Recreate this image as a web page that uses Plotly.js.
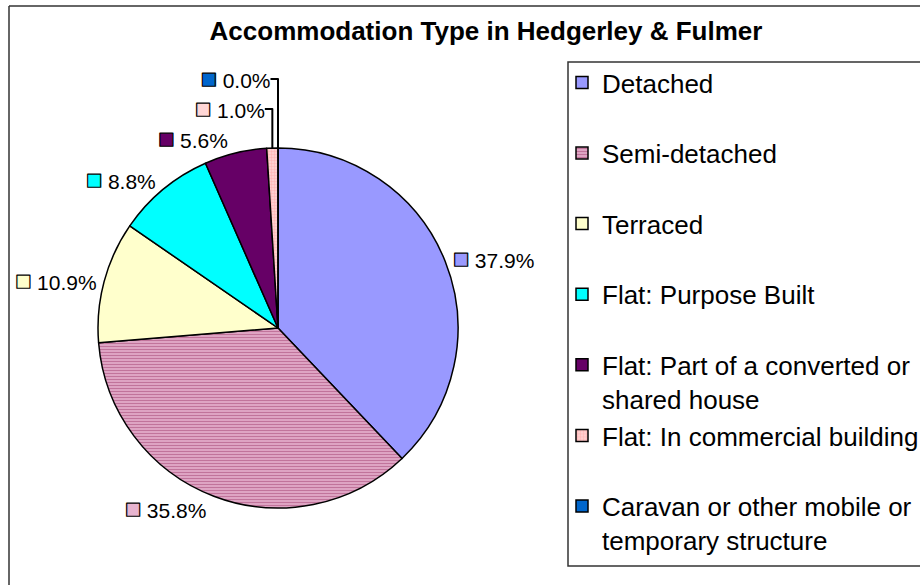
<!DOCTYPE html>
<html>
<head>
<meta charset="utf-8">
<script src="https://cdn.plot.ly/plotly-3.0.1.min.js"></script>
<style>
  html, body { margin: 0; padding: 0; overflow: hidden; background: #fff; }
  #chart { width: 920px; height: 585px; }
</style>
</head>
<body>
<div id="chart"></div>
<script>
// accommodation types (legend labels); blank lines only pad the legend rows
var types = [
  'Detached<br> ',
  'Semi-detached<br> ',
  'Terraced<br> ',
  'Flat: Purpose Built<br> ',
  'Flat: Part of a converted or<br>shared house',
  'Flat: In commercial building<br> ',
  'Caravan or other mobile or<br>temporary structure'
];
var shares = [37.9, 35.8, 10.9, 8.8, 5.6, 1.0, 0.0];
var colours = ['#9999FF', '#E8B4D0', '#FFFFCC', '#00FFFF', '#660066', '#FFD6D6', '#0066CC'];
var patterns = ['', '-', '', '', '', '.', ''];
var patternFg = ['#9999FF', '#993366', '#FFFFCC', '#00FFFF', '#660066', '#FF9999', '#0066CC'];

var W = 920, H = 585;

var trace = {
  type: 'pie',
  labels: types,
  values: shares,
  sort: false,
  direction: 'clockwise',
  rotation: 0,
  domain: { x: [98 / W, 458 / W], y: [(H - 508) / H, (H - 148) / H] },
  marker: {
    colors: colours,
    line: { color: '#000', width: 1.5 },
    pattern: { shape: patterns, fgcolor: patternFg, size: 3, solidity: 0.5, fillmode: 'overlay' }
  },
  textposition: 'outside',
  texttemplate: '<span style="color:%{color};stroke:#000;stroke-width:1.2px;font-size:27px">■</span> %{percent:.1%}',
  textfont: { family: 'Liberation Sans, Arial, sans-serif', size: 21, color: '#000' },
  hoverinfo: 'label+percent'
};

var layout = {
  width: W,
  height: H,
  margin: { l: 0, r: 0, t: 0, b: 0, autoexpand: false },
  paper_bgcolor: '#fff',
  font: { family: 'Liberation Sans, Arial, sans-serif', color: '#000' },
  title: {
    text: '<b>Accommodation Type in Hedgerley &amp; Fulmer</b>',
    font: { size: 26, color: '#000' },
    x: 486 / W, xanchor: 'center',
    y: 1 - 31 / H, yanchor: 'middle'
  },
  showlegend: true,
  legend: {
    x: 562 / W, xanchor: 'left',
    y: 1 - 59 / H, yanchor: 'top',
    font: { size: 26, color: '#000' },
    valign: 'top',
    borderwidth: 0,
    bgcolor: 'rgba(0,0,0,0)'
  },
  shapes: [
    { type: 'line', xref: 'paper', yref: 'paper', x0: 9 / W, x1: 1.2, y0: 1 - 6 / H, y1: 1 - 6 / H, line: { color: '#333', width: 1.5 } },
    { type: 'line', xref: 'paper', yref: 'paper', x0: 9 / W, x1: 9 / W, y0: 1 - 6 / H, y1: -0.2, line: { color: '#333', width: 1.5 } },
    { type: 'rect', xref: 'paper', yref: 'paper', x0: 568 / W, x1: 1.2, y0: 1 - 566 / H, y1: 1 - 62 / H, line: { color: '#333', width: 1.5 } }
  ]
};

Plotly.newPlot('chart', [trace], layout, { displayModeBar: false, staticPlot: true });
</script>
</body>
</html>
